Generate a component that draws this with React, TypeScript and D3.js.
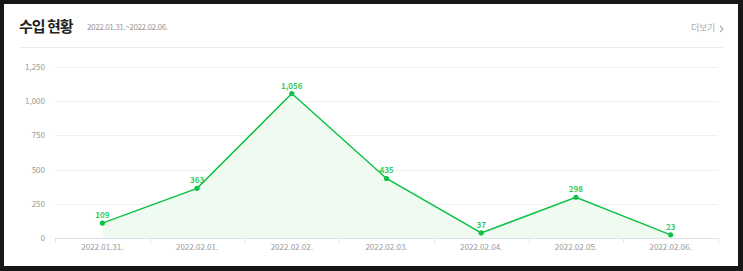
import React from "react";
import * as d3 from "d3";

const categories = ["2022.01.31.", "2022.02.01.", "2022.02.02.", "2022.02.03.", "2022.02.04.", "2022.02.05.", "2022.02.06."];
const values = [109, 363, 1056, 435, 37, 298, 23];
const yTicks = [0, 250, 500, 750, 1000, 1250];
const title = "수입 현황";
const subtitle = "2022.01.31.~2022.02.06.";
const moreLabel = "더보기";

const W = 743, H = 271;
const left = 55, right = 718, top = 67, bottom = 238;
const font = "'Noto Sans CJK KR', 'Noto Sans', sans-serif";
const green = "#0ec245";

export default function App() {
  const x = d3.scaleBand<string>().domain(categories).range([left, right]).padding(0);
  const y = d3.scaleLinear().domain([0, 1250]).range([bottom, top]);
  const cx = (c: string) => (x(c) ?? 0) + x.bandwidth() / 2;
  const data = categories.map((c, i) => ({ c, v: values[i] }));
  const line = d3.line<{ c: string; v: number }>().x(d => cx(d.c)).y(d => y(d.v));
  const area = d3.area<{ c: string; v: number }>().x(d => cx(d.c)).y0(y(0)).y1(d => y(d.v));
  const fmt = d3.format(",");
  const boundaries = [...categories.map(c => x(c) ?? 0), right];

  return (
    <svg width={W} height={H} style={{ position: "absolute", left: 0, top: 0 }} fontFamily={font}>
      <rect x={0} y={0} width={W} height={H} fill="#171717" />
      <rect x={4} y={4} width={734} height={262} fill="#ffffff" />
      <text x={19} y={32} fontSize={15} fontWeight={700} fill="#222" letterSpacing={-1} style={{ whiteSpace: "pre" }}>{title}</text>
      <text x={87} y={30} fontSize={8.2} fill="#999" letterSpacing={-0.45}>{subtitle}</text>
      <text x={691} y={31} fontSize={9} fill="#aaa" letterSpacing={-0.3}>{moreLabel}</text>
      <path d="M720,26 L723,29 L720,32" fill="none" stroke="#aaa" strokeWidth={1.1} />
      <line x1={20} x2={723} y1={47.5} y2={47.5} stroke="#ececec" />
      {yTicks.map(t => (
        <g key={t}>
          {t > 0 && <line x1={left} x2={right} y1={Math.round(y(t)) + 0.5} y2={Math.round(y(t)) + 0.5} stroke="#efefef" />}
          <text x={45} y={y(t) + 3} fontSize={8} fill="#999" textAnchor="end">{fmt(t)}</text>
        </g>
      ))}
      <path d={area(data) ?? ""} fill="#effaf1" />
      <line x1={left} x2={right} y1={bottom + 0.5} y2={bottom + 0.5} stroke="#dbe2ec" />
      {boundaries.map((b, i) => (
        <line key={i} x1={Math.round(b) + 0.5} x2={Math.round(b) + 0.5} y1={bottom} y2={bottom + 5} stroke="#dbe2ec" />
      ))}
      {categories.map(c => (
        <text key={c} x={cx(c)} y={250} fontSize={8} fill="#999" textAnchor="middle">{c}</text>
      ))}
      <path d={line(data) ?? ""} fill="none" stroke={green} strokeWidth={1.5} />
      {data.map(d => (
        <g key={d.c}>
          <circle cx={cx(d.c)} cy={y(d.v)} r={2.6} fill={green} />
          <text x={cx(d.c)} y={y(d.v) - 5} fontSize={8} fontWeight={700} fill={green} textAnchor="middle" opacity={0.85}>{fmt(d.v)}</text>
        </g>
      ))}
    </svg>
  );
}
